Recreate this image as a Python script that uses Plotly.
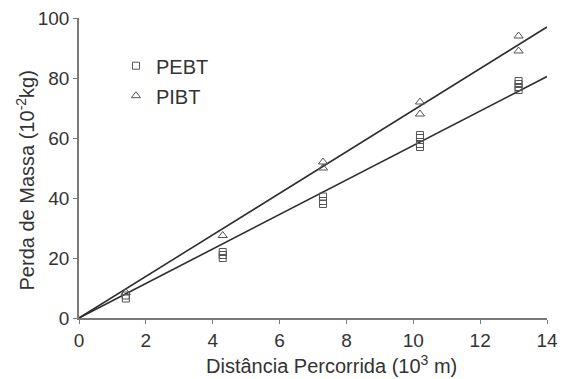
import plotly.graph_objects as go

# Data
pebt_x = [1.4, 1.4, 4.3, 4.3, 4.3, 7.3, 7.3, 7.3, 10.2, 10.2, 10.2, 10.2, 13.15, 13.15, 13.15, 13.15]
pebt_y = [6.5, 7.5, 20, 21, 22, 38, 39, 40.5, 57, 58, 60, 61, 76, 77, 78, 79]
pibt_x = [1.4, 4.3, 7.3, 7.3, 10.2, 10.2, 13.15, 13.15]
pibt_y = [8.5, 27.5, 50, 52, 68, 72, 89, 94]
fit_x = [0, 14]
fit_pebt = [0, 80.5]
fit_pibt = [0, 97]

x_ticks = [0, 2, 4, 6, 8, 10, 12, 14]
y_ticks = [0, 20, 40, 60, 80, 100]

x_title = "Distância Percorrida (10<sup>3</sup> m)"
y_title = "Perda de Massa (10<sup>-2</sup>kg)"

FONT = "Liberation Sans, Arial, sans-serif"
TXT = "#333333"
line_col = "#2e2e2e"
mk_col = "#555555"

fig = go.Figure()
fig.add_trace(go.Scatter(x=fit_x, y=fit_pibt, mode="lines", line=dict(color=line_col, width=1.6),
                         showlegend=False, hoverinfo="skip"))
fig.add_trace(go.Scatter(x=fit_x, y=fit_pebt, mode="lines", line=dict(color=line_col, width=1.6),
                         showlegend=False, hoverinfo="skip"))
fig.add_trace(go.Scatter(x=pebt_x, y=pebt_y, mode="markers", name="PEBT", legendgroup="a",
                         marker=dict(symbol="square-open", size=7, color=mk_col, line=dict(width=1))))
fig.add_trace(go.Scatter(x=pibt_x, y=pibt_y, mode="markers", name="PIBT", legendgroup="b",
                         marker=dict(symbol="triangle-up-open", size=8, color=mk_col, line=dict(width=1))))

axis_common = dict(showgrid=False, zeroline=False, showline=True, linecolor="#7a7a7a", linewidth=1.5,
                   ticks="outside", ticklen=4, tickcolor="#7a7a7a", tickwidth=1.2, automargin=False,
                   tickfont=dict(family=FONT, size=19, color=TXT))

fig.update_layout(
    width=561, height=379,
    margin=dict(l=79, r=14, t=18, b=61, autoexpand=False),
    paper_bgcolor="white", plot_bgcolor="white",
    font=dict(family=FONT, color=TXT),
    xaxis=dict(range=[0, 14], tickvals=x_ticks, **axis_common),
    yaxis=dict(range=[0, 100], tickvals=y_ticks, **axis_common),
    legend=dict(x=0.079, y=0.906, xanchor="left", yanchor="top", bgcolor="rgba(0,0,0,0)",
                font=dict(family=FONT, size=20, color=TXT), tracegroupgap=1, itemwidth=30),
    showlegend=True,
    annotations=[
        dict(text=x_title, xref="paper", yref="paper", x=0.539, y=-0.154, xanchor="center", yanchor="middle",
             showarrow=False, font=dict(family=FONT, size=20, color=TXT)),
        dict(text=y_title, xref="paper", yref="paper", x=-0.115, y=0.459, xanchor="center", yanchor="middle",
             textangle=-90, showarrow=False, font=dict(family=FONT, size=20, color=TXT)),
    ],
)

# remove the browser's default 8px body margin so the figure fills the window
fig.write_html("out.html", config={"displayModeBar": False},
               post_script="document.body.style.margin='0';document.body.style.overflow='hidden';")
